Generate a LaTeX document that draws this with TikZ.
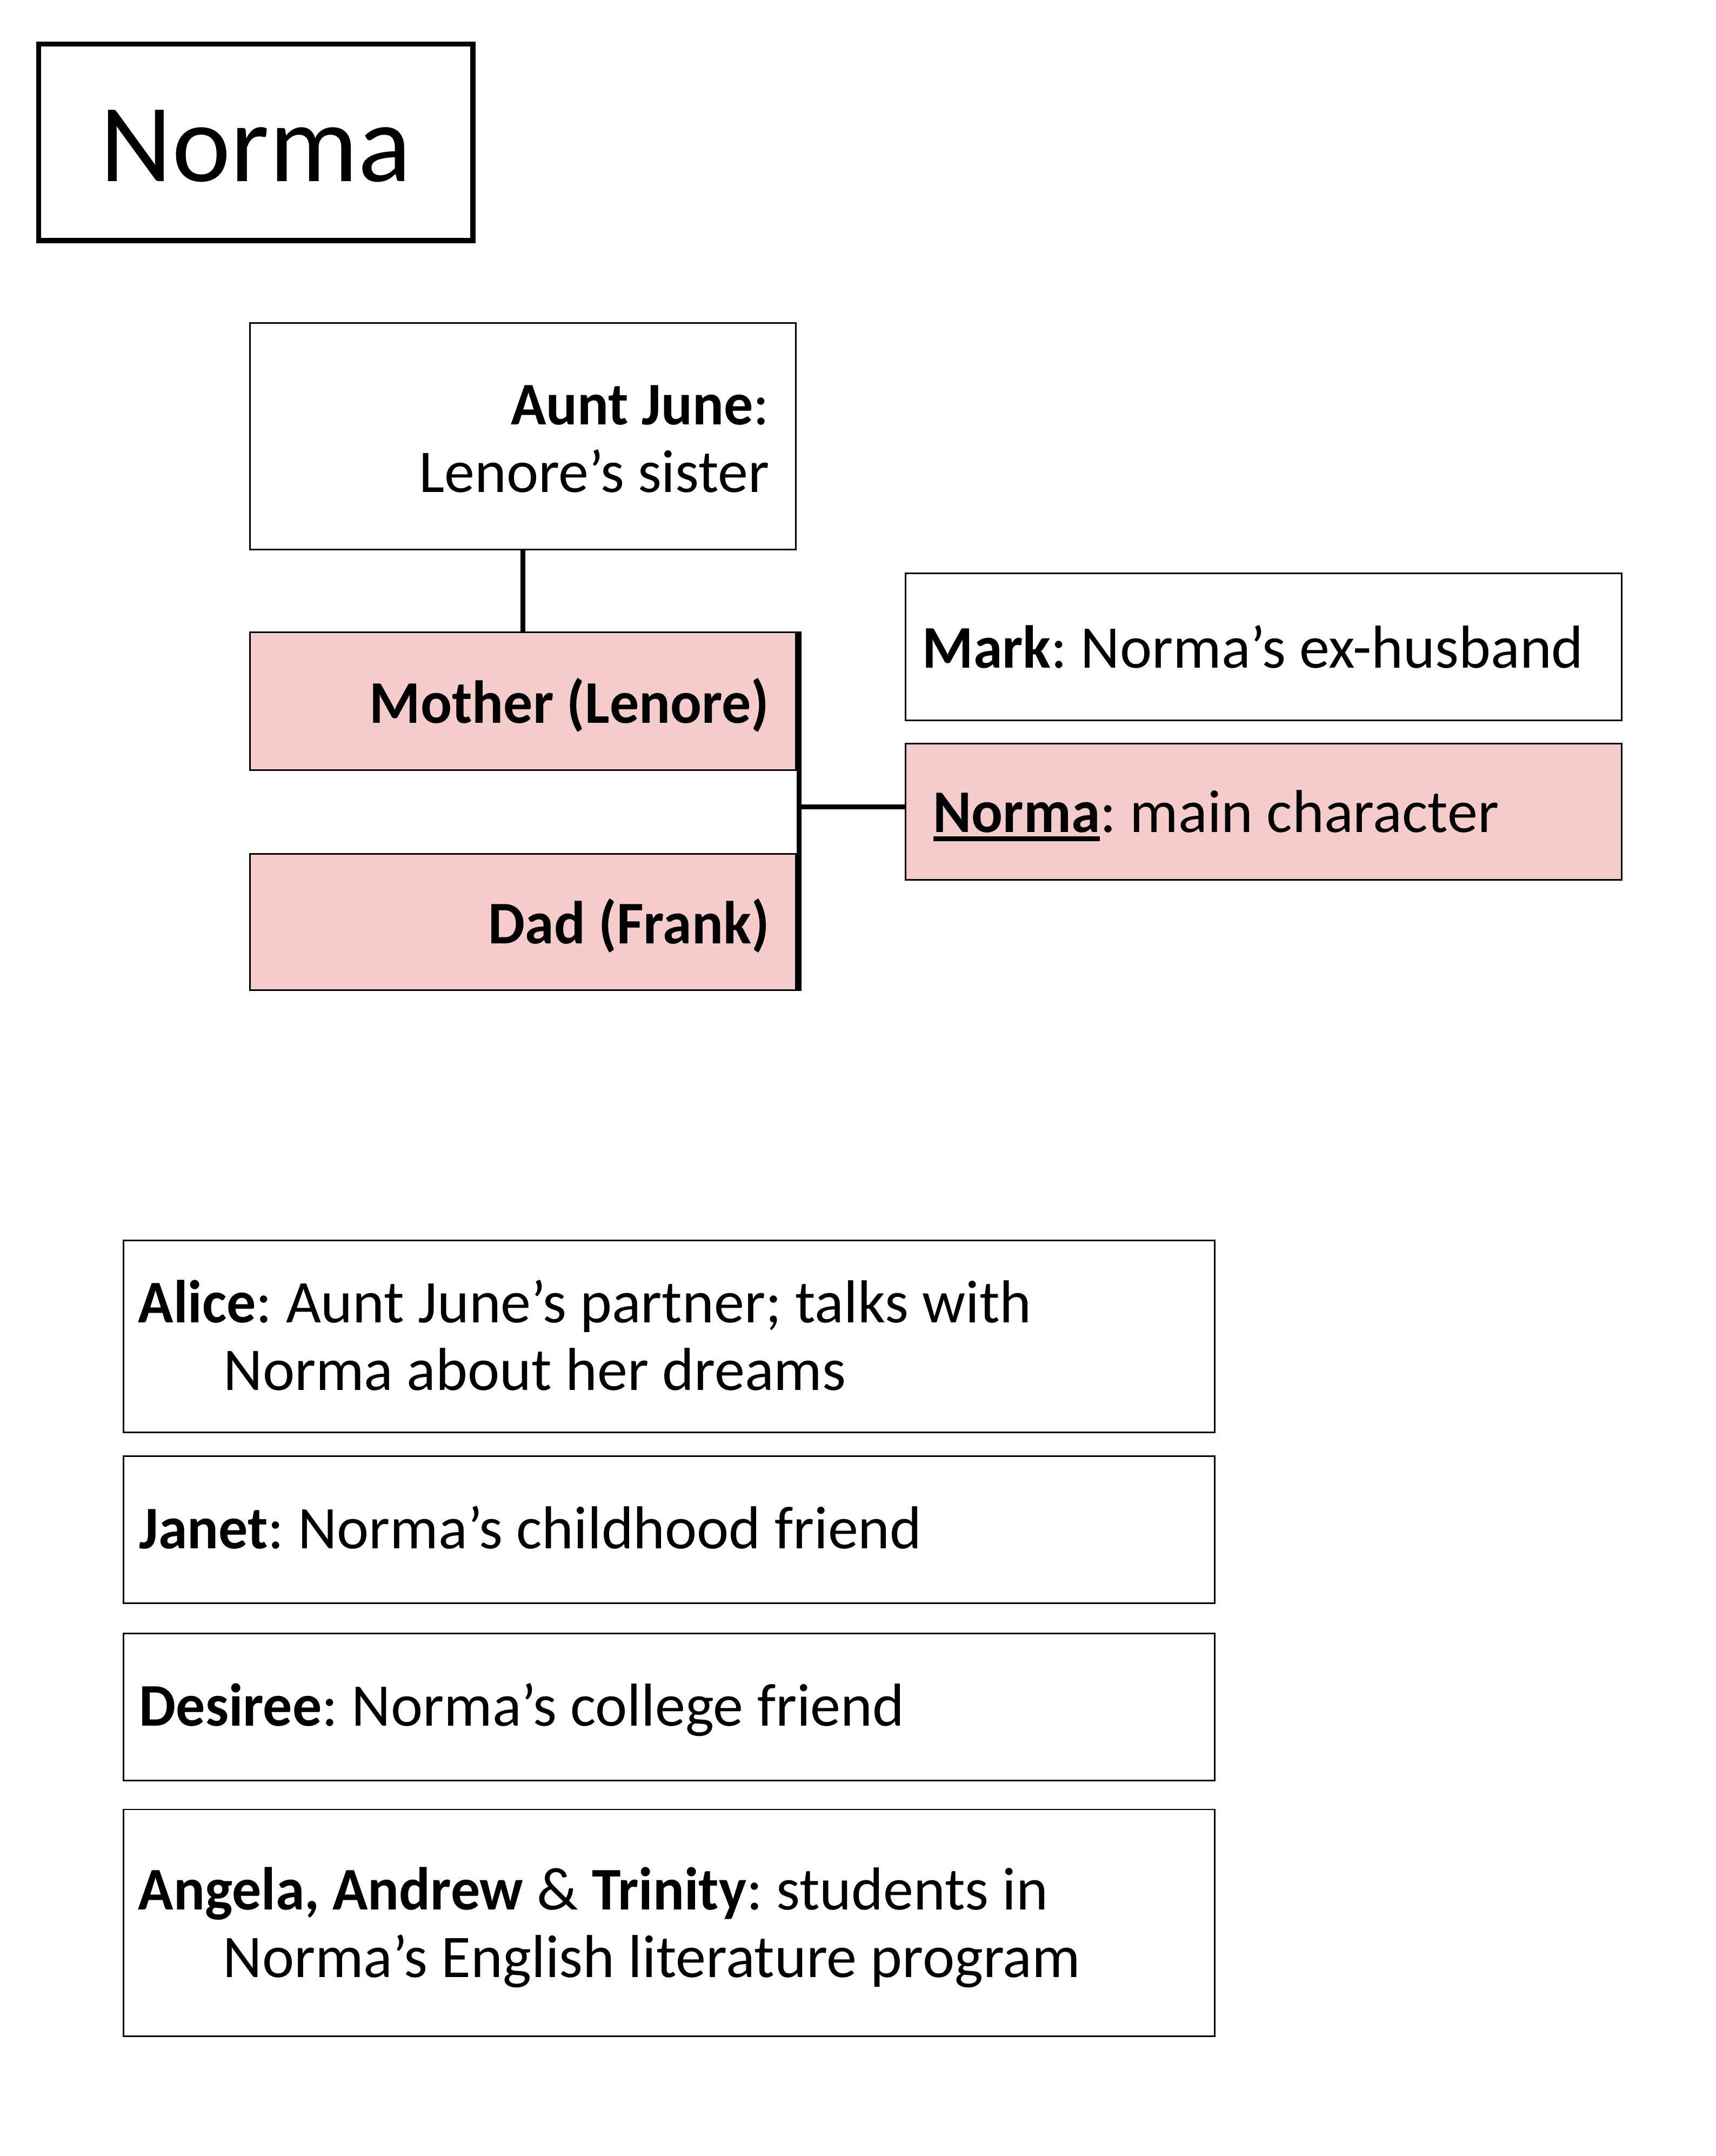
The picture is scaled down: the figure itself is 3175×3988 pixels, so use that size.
\documentclass[tikz,border=0pt]{standalone}
\usepackage{fontspec}
\setmainfont{Carlito}[BoldFeatures={FakeStretch=0.963}]
\frenchspacing
\definecolor{pinkfill}{HTML}{F4CCCC}
\newcommand{\ulbold}[1]{\setbox0\hbox{\textbf{#1}}\leavevmode\rlap{\rule[-0.15em]{\wd0}{0.08em}}\box0}
\tikzset{
  box/.style={draw=black, line width=0.85pt, rectangle, inner sep=0pt},
  pinkbox/.style={box, fill=pinkfill},
  titlebox/.style={draw=black, line width=2.8pt, rectangle, inner sep=0pt},
  txt/.style={inner sep=0pt, font=\fontsize{31.9}{37}\selectfont},
  titletxt/.style={inner sep=0pt, font=\fontsize{58.5}{64}\selectfont},
  link/.style={line width=2.5pt},
}
\begin{document}
\begin{tikzpicture}[x=0.1mm,y=-0.1mm]
\useasboundingbox (0,0) rectangle (3175,3988);
% boxes
\node[titlebox, minimum width=80.35mm, minimum height=36.35mm] (title) at (473.2,263.2) {};
\node[box, minimum width=101.0mm, minimum height=41.91mm] (aj) at (967.8,807.4) {};
\node[pinkbox, minimum width=101.0mm, minimum height=25.43mm] (mother) at (967.8,1297.1) {};
\node[pinkbox, minimum width=101.0mm, minimum height=25.23mm] (dad) at (967.8,1705.3) {};
\node[box, minimum width=132.5mm, minimum height=27.21mm] (mark) at (2337.9,1196.8) {};
\node[pinkbox, minimum width=132.5mm, minimum height=25.23mm] (norma) at (2337.9,1501.7) {};
\node[box, minimum width=201.9mm, minimum height=35.56mm] (alice) at (1238.0,2472.0) {};
\node[box, minimum width=201.9mm, minimum height=27.21mm] (janet) at (1238.0,2829.5) {};
\node[box, minimum width=201.9mm, minimum height=27.21mm] (desiree) at (1238.0,3157.3) {};
\node[box, minimum width=201.9mm, minimum height=41.91mm] (angela) at (1238.0,3556.5) {};
% connectors
\draw[link] (aj.south) -- (mother.north);
\coordinate (vtop) at ([xshift=0.4mm]mother.north east);
\coordinate (vbot) at ([xshift=0.4mm]dad.south east);
\draw[link] (vtop) -- (vbot);
\coordinate (jn) at ([yshift=0.9mm]vtop |- norma.west);
\draw[link] (jn) -- (jn -| norma.west);
% texts
\node[titletxt, anchor=base] (titletext) at (473.2,335.7) {Norma};
\node[txt, anchor=base east] (ajA) at (1424.2,785.6) {\textbf{Aunt June}:};
\node[txt, anchor=base east] (ajB) at (1424.2,910.7) {Lenore’s sister};
\node[txt, anchor=base east] (motherT) at (1424.2,1337.8) {\textbf{Mother (Lenore)}};
\node[txt, anchor=base east] (dadT) at (1424.2,1745.0) {\textbf{Dad (Frank)}};
\node[txt, anchor=base west] (markT) at (1706,1235) {\textbf{Mark}: Norma’s ex-husband};
\node[txt, anchor=base west] (normaT) at (1726,1539) {\ulbold{Norma}: main character};
\node[txt, anchor=base west] (aliceA) at (255,2446) {\textbf{Alice}: Aunt June’s partner; talks with};
\node[txt, anchor=base west] (aliceB) at (413,2571) {Norma about her dreams};
\node[txt, anchor=base west] (janetT) at (257,2864) {\textbf{Janet}: Norma’s childhood friend};
\node[txt, anchor=base west] (desT) at (257,3192) {\textbf{Desiree}: Norma’s college friend};
\node[txt, anchor=base west] (angA) at (255,3532) {\textbf{Angela, Andrew} \& \textbf{Trinity}: students in};
\node[txt, anchor=base west] (angB) at (412,3657) {Norma’s English literature program};
\end{tikzpicture}
\end{document}
